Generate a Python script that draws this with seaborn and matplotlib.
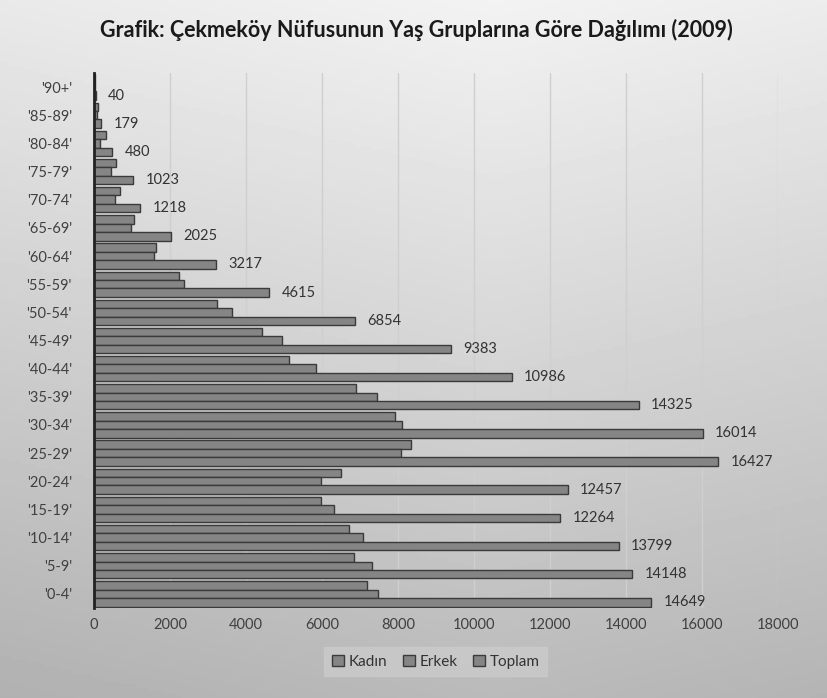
import matplotlib
matplotlib.use("Agg")
import matplotlib.pyplot as plt
import seaborn as sns
import numpy as np
import pandas as pd

# age groups, bottom ('0-4') to top ('90+')
gruplar = ["'0-4'", "'5-9'", "'10-14'", "'15-19'", "'20-24'", "'25-29'", "'30-34'",
           "'35-39'", "'40-44'", "'45-49'", "'50-54'", "'55-59'", "'60-64'", "'65-69'",
           "'70-74'", "'75-79'", "'80-84'", "'85-89'", "'90+'"]
kadin = [7180, 6830, 6720, 5960, 6490, 8345, 7920, 6885, 5135, 4430, 3230, 2238,
         1635, 1050, 679, 583, 310, 105, 25]
erkek = [7469, 7318, 7079, 6304, 5967, 8082, 8094, 7440, 5851, 4953, 3624, 2377,
         1582, 975, 539, 440, 170, 74, 15]
toplam = [14649, 14148, 13799, 12264, 12457, 16427, 16014, 14325, 10986, 9383, 6854,
          4615, 3217, 2025, 1218, 1023, 480, 179, 40]
seriler = ["Kadın", "Erkek", "Toplam"]

df = pd.DataFrame({
    "grup": gruplar * 3,
    "deger": kadin + erkek + toplam,
    "seri": np.repeat(seriler, len(gruplar)),
})

sns.set_style("white")
plt.rcParams["font.family"] = ["Lato", "DejaVu Sans"]

fig = plt.figure(figsize=(8.27, 6.98), dpi=100)

# background gradient of the chart area
bg = fig.add_axes([0, 0, 1, 1], zorder=-5)
yy, xx = np.mgrid[0:1:200j, 0:1:200j]
grad = 0.95 - 0.22 * yy - 0.06 * np.abs(xx - 0.6)
bg.imshow(grad, cmap="gray", vmin=0, vmax=1, aspect="auto", extent=[0, 1, 0, 1])
bg.set_axis_off()

ax = fig.add_axes([0.1137, 0.129, 0.8273, 0.7664])
ax.patch.set_alpha(0)

sns.barplot(data=df, y="grup", x="deger", hue="seri", order=gruplar[::-1],
            hue_order=seriler, orient="h", palette=["#858585"] * 3,
            edgecolor="#3a3a3a", linewidth=1, width=0.9, gap=0,
            legend=True, ax=ax)

ax.bar_label(ax.containers[2], labels=[str(v) for v in toplam[::-1]],
             padding=9, fontsize=10.5, color="#333333")

ax.set_xlim(0, 18000)
ax.set_xticks(range(0, 18001, 2000))
ax.set_ylim(18.5, -0.5)
ax.grid(axis="x", color="#cfcfcf", linewidth=1)
ax.set_axisbelow(True)
ax.set_xlabel("")
ax.set_ylabel("")
ax.tick_params(axis="both", length=0, labelsize=10.5, labelcolor="#404040")
ax.tick_params(axis="y", pad=16)
ax.tick_params(axis="x", pad=7)
for s in ["top", "right", "bottom"]:
    ax.spines[s].set_visible(False)
ax.spines["left"].set_color("#222222")
ax.spines["left"].set_linewidth(2)

ax.legend(loc="center", bbox_to_anchor=(0.527, 0.052), bbox_transform=fig.transFigure,
          ncol=3, frameon=True, facecolor="#cbcbcb", edgecolor="#cbcbcb",
          fontsize=11, handlelength=0.8, handleheight=0.8, handletextpad=0.3,
          columnspacing=1.0, borderpad=0.5, fancybox=False, labelcolor="#333333")

fig.text(0.504, 0.957, "Grafik: Çekmeköy Nüfusunun Yaş Gruplarına Göre Dağılımı (2009)",
         ha="center", va="center", fontsize=15.5, fontweight="bold", color="#1a1a1a")

fig.savefig("out.png", dpi=100)
